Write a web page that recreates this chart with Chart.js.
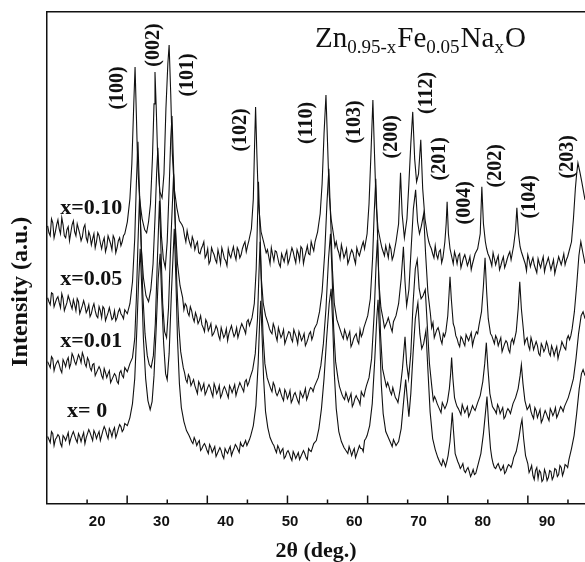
<!DOCTYPE html>
<html>
<head>
<meta charset="utf-8">
<script src="https://cdn.jsdelivr.net/npm/chart.js@4/dist/chart.umd.min.js"></script>
<style>
  html, body { margin: 0; padding: 0; background: #fff; }
  .chart__wrapper { width: 585px; height: 562px; position: relative; }
</style>
</head>
<body>
<div class="chart__wrapper"><canvas id="xrd-chart"></canvas></div>
<script>
// 2theta (deg.) / intensity (a.u.) pairs
const trace010 = [[12.3,278],[12.7,268],[13.1,281],[13.5,272],[13.9,284],[14.3,270],[14.7,279],[15.1,266],[15.5,277],[15.9,271],[16.3,283],[16.7,268],[17.1,275],[17.5,263],[17.9,276],[18.3,266],[18.7,272],[19.1,259],[19.5,270],[19.9,262],[20.3,268],[20.7,255],[21.1,266],[21.5,257],[21.9,264],[22.3,254],[22.7,265],[23.1,256],[23.5,266],[23.9,262],[24.3,270],[24.7,282],[25.1,305],[25.4,340],[25.7,400],[25.9,437],[26.1,390],[26.3,340],[26.6,305],[27.0,285],[27.4,274],[27.7,271],[28.0,282],[28.3,300],[28.6,345],[28.85,400],[29.0,432],[29.2,395],[29.45,340],[29.75,312],[30.1,306],[30.4,330],[30.7,395],[31.0,440],[31.2,459],[31.45,410],[31.7,350],[32.0,315],[32.4,296],[32.8,283],[33.2,279],[33.6,268],[34.0,273],[34.4,261],[34.8,267],[35.2,254],[35.6,262],[36.0,250],[36.4,258],[36.8,246],[37.2,255],[37.6,243],[38.0,252],[38.4,244],[38.8,254],[39.2,240],[39.6,251],[40.0,243],[40.4,255],[40.8,246],[41.2,257],[41.6,244],[42.0,253],[42.4,249],[42.8,259],[43.2,252],[43.6,263],[44.0,275],[44.3,305],[44.5,360],[44.65,397],[44.85,350],[45.1,300],[45.5,272],[45.9,262],[46.3,251],[46.7,247],[47.1,256],[47.5,243],[47.9,252],[48.3,240],[48.7,250],[49.1,242],[49.5,253],[49.9,244],[50.3,256],[50.7,246],[51.1,254],[51.5,243],[51.9,255],[52.3,247],[52.7,258],[53.1,249],[53.5,257],[53.9,262],[54.3,272],[54.7,290],[55.0,320],[55.3,370],[55.6,409],[55.85,360],[56.1,310],[56.4,285],[56.8,268],[57.2,262],[57.6,251],[58.0,259],[58.4,246],[58.8,255],[59.2,244],[59.6,254],[60.0,245],[60.4,256],[60.8,248],[61.2,258],[61.6,255],[62.0,270],[62.3,300],[62.6,350],[62.9,404],[63.15,350],[63.4,300],[63.7,275],[64.1,262],[64.5,252],[64.9,258],[65.3,246],[65.7,255],[66.1,248],[66.5,262],[66.9,280],[67.2,331],[67.45,290],[67.8,266],[68.2,285],[68.5,320],[68.8,360],[69.1,392],[69.4,345],[69.7,322],[70.0,330],[70.35,364],[70.65,315],[71.0,285],[71.4,268],[71.8,258],[72.2,250],[72.6,258],[73.0,245],[73.4,254],[73.8,246],[74.1,262],[74.3,280],[74.45,302],[74.65,270],[74.9,255],[75.2,246],[75.6,252],[76.0,240],[76.4,250],[76.8,241],[77.2,249],[77.6,238],[78.0,247],[78.4,240],[78.8,250],[79.2,255],[79.6,270],[79.85,317],[80.1,280],[80.4,262],[80.8,250],[81.2,243],[81.6,251],[82.0,239],[82.4,248],[82.8,238],[83.2,247],[83.6,240],[84.0,249],[84.4,244],[84.8,258],[85.1,274],[85.3,296],[85.55,270],[85.8,257],[86.2,248],[86.6,240],[87.0,249],[87.4,237],[87.8,246],[88.2,235],[88.6,245],[89.0,236],[89.4,247],[89.8,238],[90.2,246],[90.6,234],[91.0,244],[91.4,236],[91.8,247],[92.2,239],[92.6,250],[93.0,244],[93.4,252],[93.8,262],[94.1,285],[94.4,315],[94.6,330],[94.8,341],[95.1,332],[95.4,322],[95.9,304]];
// in-between readings of the noisy background
const trace010Fine = [[12.5,271],[12.9,285],[13.3,266],[13.7,279],[14.1,275],[14.5,286],[14.9,268],[15.3,274],[15.7,263],[16.1,279],[16.5,272],[16.9,280],[17.3,270],[17.7,267],[18.1,279],[18.5,262],[18.9,268],[19.3,265],[19.7,256],[20.1,271],[20.5,261],[20.9,262],[21.3,252],[21.7,268],[22.1,260],[22.5,268],[22.9,251],[23.3,263],[23.7,258],[24.1,268],[33.4,276],[33.8,262],[34.2,266],[34.6,257],[35.0,263],[35.4,259],[35.8,251],[36.2,255],[36.6,262],[37.0,249],[37.4,240],[37.8,256],[38.2,249],[38.6,241],[39.0,248],[39.4,256],[39.8,245],[40.2,238],[40.6,249],[41.0,252],[41.4,249],[41.8,256],[42.2,246],[42.6,255],[43.0,262],[43.4,258],[46.5,254],[46.9,240],[47.3,249],[47.7,253],[48.1,246],[48.5,237],[48.9,246],[49.3,249],[49.7,240],[50.1,250],[50.5,252],[50.9,241],[51.3,250],[51.7,257],[52.1,240],[52.5,252],[52.9,250],[53.3,262],[53.7,253],[57.0,257],[57.4,255],[57.8,245],[58.2,253],[58.6,250],[59.0,240],[59.4,250],[59.8,251],[60.2,240],[60.6,251],[61.0,253],[61.4,262],[64.3,256],[64.7,248],[65.1,252],[65.5,259],[65.9,244],[66.3,255],[71.6,262],[72.0,255],[72.4,246],[72.8,249],[73.2,252],[73.6,241],[75.4,240],[75.8,247],[76.2,248],[76.6,236],[77.0,246],[77.4,244],[77.8,242],[78.2,234],[78.6,245],[80.6,255],[81.0,247],[81.4,238],[81.8,245],[82.2,244],[82.6,234],[83.0,243],[83.4,236],[83.8,245],[84.2,252],[86.0,252],[86.4,244],[86.8,233],[87.2,244],[87.6,242],[88.0,239],[88.4,231],[88.8,240],[89.2,242],[89.6,232],[90.0,242],[90.4,240],[90.8,239],[91.2,230],[91.6,241],[92.0,243],[92.4,244],[92.8,239],[93.2,247]];

const trace005 = [[12.3,206],[12.7,199],[13.1,210],[13.5,201],[13.9,207],[14.3,196],[14.7,205],[15.1,197],[15.5,208],[15.9,199],[16.3,204],[16.7,193],[17.1,202],[17.5,194],[17.9,203],[18.3,191],[18.7,199],[19.1,190],[19.5,200],[19.9,188],[20.3,197],[20.7,186],[21.1,195],[21.5,187],[21.9,196],[22.3,184],[22.7,193],[23.1,186],[23.5,195],[23.9,188],[24.3,194],[24.7,190],[25.1,200],[25.5,222],[25.85,265],[26.1,320],[26.35,362],[26.6,310],[26.85,258],[27.2,226],[27.6,208],[28.0,202],[28.35,214],[28.7,240],[29.0,285],[29.25,330],[29.45,356],[29.7,318],[30.0,268],[30.3,245],[30.6,236],[30.9,262],[31.2,315],[31.45,365],[31.65,388],[31.9,335],[32.15,280],[32.5,240],[32.9,218],[33.3,206],[33.7,200],[34.1,191],[34.5,197],[34.9,186],[35.3,191],[35.7,180],[36.1,188],[36.5,176],[36.9,184],[37.3,173],[37.7,180],[38.1,170],[38.5,178],[38.9,168],[39.3,176],[39.7,166],[40.1,175],[40.5,170],[40.9,178],[41.3,167],[41.7,176],[42.1,171],[42.5,180],[42.9,174],[43.3,182],[43.7,178],[44.1,186],[44.45,200],[44.75,235],[44.95,285],[45.1,322],[45.3,280],[45.55,225],[45.85,200],[46.2,188],[46.6,180],[47.0,172],[47.4,180],[47.8,168],[48.2,176],[48.6,166],[49.0,174],[49.4,164],[49.8,172],[50.2,165],[50.6,174],[51.0,166],[51.4,172],[51.8,163],[52.2,170],[52.6,161],[53.0,170],[53.4,164],[53.8,175],[54.2,180],[54.6,192],[55.0,212],[55.4,250],[55.75,300],[56.05,335],[56.3,290],[56.6,235],[56.9,200],[57.3,184],[57.7,176],[58.1,168],[58.5,174],[58.9,164],[59.3,172],[59.7,160],[60.1,168],[60.5,163],[60.9,174],[61.3,170],[61.7,180],[62.1,188],[62.5,205],[62.85,245],[63.1,290],[63.35,325],[63.6,275],[63.85,220],[64.15,196],[64.5,184],[64.9,179],[65.3,186],[65.7,176],[66.1,182],[66.5,188],[66.9,200],[67.3,225],[67.65,257],[67.9,222],[68.15,198],[68.5,214],[68.85,255],[69.2,295],[69.55,314],[69.85,282],[70.15,270],[70.45,278],[70.8,290],[71.1,250],[71.45,212],[71.85,190],[72.25,181],[72.65,170],[73.05,176],[73.45,164],[73.85,170],[74.25,172],[74.55,188],[74.75,210],[74.9,227],[75.1,205],[75.4,180],[75.8,168],[76.2,160],[76.6,167],[77.0,161],[77.4,169],[77.8,163],[78.2,171],[78.6,164],[79.0,172],[79.4,178],[79.8,192],[80.1,218],[80.35,246],[80.6,212],[80.85,185],[81.2,170],[81.6,164],[82.0,168],[82.4,158],[82.8,166],[83.2,156],[83.6,163],[84.0,154],[84.4,162],[84.8,160],[85.2,172],[85.5,195],[85.75,222],[86.0,195],[86.3,175],[86.7,164],[87.1,158],[87.5,166],[87.9,154],[88.3,162],[88.7,150],[89.1,160],[89.5,152],[89.9,162],[90.3,151],[90.7,158],[91.1,148],[91.5,157],[91.9,151],[92.3,162],[92.7,156],[93.1,165],[93.5,164],[93.9,175],[94.25,192],[94.6,218],[94.95,248],[95.25,262],[95.6,250],[95.9,240]];
const trace005Fine = [[12.5,202],[12.9,211],[13.3,197],[13.7,205],[14.1,201],[14.5,210],[14.9,193],[15.3,201],[15.7,204],[16.1,195],[16.5,199],[16.9,205],[17.3,190],[17.7,198],[18.1,198],[18.5,194],[18.9,187],[19.3,196],[19.7,193],[20.1,186],[20.5,193],[20.9,197],[21.3,183],[21.7,191],[22.1,190],[22.5,186],[22.9,183],[23.3,192],[23.7,190],[24.1,185],[33.5,194],[33.9,198],[34.3,188],[34.7,193],[35.1,182],[35.5,187],[35.9,183],[36.3,179],[36.7,172],[37.1,181],[37.5,176],[37.9,168],[38.3,173],[38.7,175],[39.1,164],[39.5,171],[39.9,169],[40.3,163],[40.7,174],[41.1,172],[41.5,170],[41.9,166],[42.3,176],[42.7,177],[43.1,170],[43.5,184],[46.4,184],[46.8,175],[47.2,170],[47.6,176],[48.0,163],[48.4,171],[48.8,169],[49.2,160],[49.6,168],[50.0,171],[50.4,162],[50.8,170],[51.2,160],[51.6,168],[52.0,166],[52.4,158],[52.8,165],[53.2,172],[53.6,168],[57.5,180],[57.9,172],[58.3,165],[58.7,170],[59.1,168],[59.5,157],[59.9,165],[60.3,170],[60.7,160],[61.1,167],[61.5,176],[64.7,176],[65.1,182],[65.5,181],[65.9,172],[66.3,185],[72.05,176],[72.45,166],[72.85,174],[73.25,171],[73.65,160],[74.05,167],[75.6,176],[76.0,165],[76.4,157],[76.8,165],[77.2,158],[77.6,166],[78.0,167],[78.4,158],[78.8,168],[79.2,170],[81.4,168],[81.8,160],[82.2,165],[82.6,162],[83.0,152],[83.4,160],[83.8,161],[84.2,151],[84.6,165],[86.5,160],[86.9,166],[87.3,154],[87.7,161],[88.1,158],[88.5,158],[88.9,148],[89.3,157],[89.7,155],[90.1,158],[90.5,148],[90.9,154],[91.3,153],[91.7,145],[92.1,155],[92.5,159],[92.9,154],[93.3,168],[93.7,168]];

const trace001 = [[12.3,142],[12.7,136],[13.1,145],[13.5,138],[13.9,143],[14.3,134],[14.7,144],[15.1,137],[15.5,146],[15.9,140],[16.3,147],[16.7,139],[17.1,149],[17.5,141],[17.9,147],[18.3,137],[18.7,143],[19.1,133],[19.5,140],[19.9,131],[20.3,137],[20.7,128],[21.1,135],[21.5,126],[21.9,133],[22.3,124],[22.7,130],[23.1,122],[23.5,131],[23.9,128],[24.3,136],[24.7,132],[25.1,140],[25.5,146],[25.85,165],[26.1,205],[26.35,260],[26.6,308],[26.85,262],[27.1,210],[27.45,170],[27.8,148],[28.1,139],[28.4,136],[28.75,148],[29.05,180],[29.35,240],[29.7,303],[29.95,250],[30.2,200],[30.5,172],[30.8,166],[31.1,195],[31.45,260],[31.9,330],[32.15,280],[32.4,220],[32.7,178],[33.0,152],[33.4,136],[33.8,124],[34.2,129],[34.6,118],[35.0,124],[35.4,114],[35.8,122],[36.2,113],[36.6,120],[37.0,112],[37.4,119],[37.8,111],[38.2,120],[38.6,110],[39.0,118],[39.4,109],[39.8,117],[40.2,110],[40.6,118],[41.0,111],[41.4,119],[41.8,113],[42.2,121],[42.6,115],[43.0,122],[43.4,118],[43.8,126],[44.2,134],[44.6,150],[44.95,185],[45.2,235],[45.35,262],[45.55,220],[45.8,170],[46.1,140],[46.45,126],[46.8,119],[47.2,112],[47.6,118],[48.0,108],[48.4,115],[48.8,106],[49.2,114],[49.6,105],[50.0,113],[50.4,104],[50.8,111],[51.2,103],[51.6,112],[52.0,106],[52.4,115],[52.8,108],[53.2,116],[53.6,112],[54.0,120],[54.4,126],[54.8,138],[55.2,160],[55.6,195],[56.0,245],[56.3,270],[56.55,230],[56.8,175],[57.1,142],[57.5,124],[57.9,113],[58.3,106],[58.7,111],[59.1,102],[59.5,110],[59.9,100],[60.3,108],[60.7,103],[61.1,112],[61.5,107],[61.9,118],[62.3,126],[62.7,145],[63.1,190],[63.4,240],[63.6,264],[63.85,220],[64.1,168],[64.4,135],[64.8,123],[65.2,121],[65.6,112],[66.0,116],[66.4,106],[66.8,101],[67.15,115],[67.5,135],[67.9,167],[68.15,140],[68.45,125],[68.8,150],[69.15,200],[69.5,235],[69.8,244],[70.1,215],[70.4,205],[70.7,208],[71.05,214],[71.35,180],[71.7,140],[72.1,115],[72.5,107],[72.9,100],[73.3,94],[73.7,101],[74.1,95],[74.5,102],[74.8,115],[75.0,130],[75.15,146],[75.35,125],[75.6,106],[76.0,97],[76.4,92],[76.8,99],[77.2,91],[77.6,97],[78.0,90],[78.4,98],[78.8,93],[79.2,101],[79.6,108],[80.0,122],[80.3,140],[80.55,161],[80.8,135],[81.1,110],[81.5,97],[81.9,93],[82.3,99],[82.7,90],[83.1,96],[83.5,87],[83.9,95],[84.3,90],[84.7,100],[85.1,106],[85.5,115],[85.8,128],[86.0,139],[86.25,120],[86.55,103],[86.9,94],[87.3,99],[87.7,88],[88.1,96],[88.5,86],[88.9,94],[89.3,84],[89.7,93],[90.1,86],[90.5,95],[90.9,88],[91.3,96],[91.7,89],[92.1,97],[92.5,92],[92.9,100],[93.3,106],[93.7,115],[94.1,125],[94.5,145],[94.9,170],[95.3,188],[95.6,192],[95.9,185]];
const trace001Fine = [[12.5,139],[12.9,147],[13.3,133],[13.7,141],[14.1,139],[14.5,131],[14.9,141],[15.3,143],[15.7,136],[16.1,150],[16.5,142],[16.9,144],[17.3,146],[17.7,151],[18.1,140],[18.5,146],[18.9,136],[19.3,139],[19.7,128],[20.1,134],[20.5,134],[20.9,125],[21.3,131],[21.7,130],[22.1,121],[22.5,127],[22.9,128],[23.3,120],[23.7,133],[24.1,126],[33.6,131],[34.0,121],[34.4,126],[34.8,121],[35.2,118],[35.6,110],[36.0,119],[36.4,116],[36.8,109],[37.2,116],[37.6,116],[38.0,107],[38.4,116],[38.8,113],[39.2,106],[39.6,114],[40.0,114],[40.4,106],[40.8,115],[41.2,115],[41.6,108],[42.0,117],[42.4,118],[42.8,112],[43.2,124],[43.6,121],[47.0,115],[47.4,121],[47.8,111],[48.2,111],[48.6,110],[49.0,103],[49.4,111],[49.8,108],[50.2,101],[50.6,109],[51.0,107],[51.4,100],[51.8,109],[52.2,110],[52.6,104],[53.0,113],[53.4,115],[53.8,117],[57.7,117],[58.1,109],[58.5,104],[58.9,107],[59.3,106],[59.7,97],[60.1,105],[60.5,105],[60.9,99],[61.3,109],[61.7,113],[65.0,117],[65.4,117],[65.8,109],[66.2,111],[66.6,104],[72.3,103],[72.7,104],[73.1,97],[73.5,91],[73.9,98],[74.3,98],[75.8,101],[76.2,95],[76.6,89],[77.0,95],[77.4,94],[77.8,87],[78.2,94],[78.6,95],[79.0,97],[81.7,95],[82.1,90],[82.5,96],[82.9,93],[83.3,85],[83.7,92],[84.1,93],[84.5,95],[87.1,96],[87.5,92],[87.9,85],[88.3,93],[88.7,90],[89.1,81],[89.5,89],[89.9,90],[90.3,83],[90.7,92],[91.1,91],[91.5,86],[91.9,93],[92.3,95],[92.7,97]];

const trace000 = [[12.3,67],[12.7,61],[13.1,70],[13.5,64],[13.9,69],[14.3,60],[14.7,68],[15.1,63],[15.5,71],[15.9,65],[16.3,72],[16.7,64],[17.1,70],[17.5,62],[17.9,71],[18.3,66],[18.7,74],[19.1,67],[19.5,73],[19.9,65],[20.3,72],[20.7,68],[21.1,77],[21.5,69],[21.9,75],[22.3,67],[22.7,76],[23.1,70],[23.5,79],[23.9,72],[24.3,80],[24.7,78],[25.1,86],[25.5,100],[25.85,125],[26.15,170],[26.45,222],[26.7,255],[26.95,215],[27.2,165],[27.55,125],[27.9,103],[28.25,94],[28.55,102],[28.85,128],[29.15,170],[29.5,225],[29.8,250],[30.05,205],[30.35,160],[30.65,130],[30.9,124],[31.2,150],[31.55,210],[32.0,275],[32.25,225],[32.5,165],[32.8,120],[33.1,96],[33.5,82],[33.9,73],[34.3,68],[34.7,62],[35.1,66],[35.5,58],[35.9,63],[36.3,55],[36.7,60],[37.1,53],[37.5,59],[37.9,51],[38.3,57],[38.7,50],[39.1,56],[39.5,48],[39.9,55],[40.3,50],[40.7,57],[41.1,52],[41.5,59],[41.9,54],[42.3,61],[42.7,57],[43.1,63],[43.5,61],[43.9,68],[44.3,78],[44.7,98],[45.05,140],[45.3,185],[45.45,203],[45.65,170],[45.9,125],[46.2,92],[46.55,76],[46.9,66],[47.3,60],[47.7,54],[48.1,58],[48.5,50],[48.9,55],[49.3,47],[49.7,53],[50.1,46],[50.5,52],[50.9,45],[51.3,51],[51.7,47],[52.1,53],[52.5,46],[52.9,55],[53.3,52],[53.7,60],[54.1,63],[54.5,75],[54.9,95],[55.3,125],[55.7,165],[56.1,200],[56.4,215],[56.65,180],[56.9,130],[57.2,95],[57.6,72],[58.0,62],[58.4,56],[58.8,52],[59.2,57],[59.6,48],[60.0,55],[60.4,50],[60.8,58],[61.2,55],[61.6,63],[62.0,68],[62.4,78],[62.8,100],[63.2,145],[63.5,185],[63.7,204],[63.95,170],[64.2,120],[64.5,90],[64.9,72],[65.3,66],[65.7,60],[66.1,64],[66.5,58],[66.9,62],[67.3,75],[67.65,100],[68.0,124],[68.25,105],[68.5,87],[68.8,110],[69.15,150],[69.5,185],[69.9,201],[70.2,170],[70.5,155],[70.8,160],[71.15,173],[71.45,135],[71.8,92],[72.2,65],[72.6,54],[73.0,46],[73.4,40],[73.8,44],[74.2,37],[74.6,48],[74.9,62],[75.1,78],[75.25,91],[75.45,72],[75.7,50],[76.1,42],[76.5,35],[76.9,40],[77.3,31],[77.7,36],[78.1,27],[78.5,34],[78.9,30],[79.3,40],[79.7,50],[80.1,70],[80.4,90],[80.65,107],[80.9,80],[81.2,55],[81.6,40],[82.0,35],[82.4,40],[82.8,33],[83.2,38],[83.6,32],[84.0,39],[84.4,36],[84.8,46],[85.2,52],[85.6,65],[85.9,78],[86.1,84],[86.35,65],[86.65,48],[87.0,40],[87.4,34],[87.8,28],[88.2,33],[88.6,25],[89.0,31],[89.4,24],[89.8,30],[90.2,26],[90.6,32],[91.0,27],[91.4,34],[91.8,29],[92.2,36],[92.6,32],[93.0,38],[93.4,44],[93.8,55],[94.2,68],[94.6,90],[95.0,115],[95.35,130],[95.6,134],[95.9,128]];
const trace000Fine = [[12.5,64],[12.9,72],[13.3,58],[13.7,66],[14.1,67],[14.5,57],[14.9,66],[15.3,67],[15.7,60],[16.1,69],[16.5,68],[16.9,61],[17.3,67],[17.7,67],[18.1,60],[18.5,70],[18.9,71],[19.3,63],[19.7,70],[20.1,69],[20.5,63],[20.9,73],[21.3,74],[21.7,65],[22.1,72],[22.5,73],[22.9,66],[23.3,75],[23.7,77],[24.1,74],[34.5,65],[34.9,60],[35.3,63],[35.7,61],[36.1,53],[36.5,58],[36.9,57],[37.3,50],[37.7,56],[38.1,54],[38.5,47],[38.9,53],[39.3,53],[39.7,45],[40.1,52],[40.5,54],[40.9,48],[41.3,55],[41.7,57],[42.1,51],[42.5,58],[42.9,60],[43.3,58],[43.7,64],[47.1,63],[47.5,58],[47.9,51],[48.3,55],[48.7,53],[49.1,45],[49.5,51],[49.9,50],[50.3,43],[50.7,49],[51.1,48],[51.5,44],[51.9,50],[52.3,50],[52.7,44],[53.1,53],[53.5,56],[58.2,59],[58.6,54],[59.0,50],[59.4,53],[59.8,52],[60.2,46],[60.6,54],[61.0,55],[61.4,52],[61.8,65],[65.1,69],[65.5,63],[65.9,57],[66.3,61],[66.7,60],[72.8,50],[73.2,43],[73.6,38],[74.0,41],[74.4,42],[76.3,39],[76.7,37],[77.1,33],[77.5,34],[77.9,32],[78.3,30],[78.7,29],[79.1,35],[81.4,46],[81.8,36],[82.2,38],[82.6,36],[83.0,35],[83.4,30],[83.8,36],[84.2,38],[84.6,40],[87.2,31],[87.6,38],[88.0,24],[88.4,36],[88.8,33],[89.2,22],[89.6,34],[90.0,23],[90.4,33],[90.8,24],[91.2,35],[91.6,27],[92.0,38],[92.4,28],[92.8,39],[93.2,36]];

// axis
const xTickLabels = [20, 30, 40, 50, 60, 70, 80, 90];
const tickMarks = [18.44, 24.67, 30.91, 37.14, 43.38, 49.61, 55.84, 62.08, 68.31, 74.55, 80.78, 87.01, 93.25];

// peak indices, placed at (2theta, intensity)
const peakNames = ["(100)", "(002)", "(101)", "(102)", "(110)", "(103)", "(200)", "(112)", "(201)", "(004)", "(202)", "(104)", "(203)"];
const peakLabelX = [23.27, 28.86, 34.15, 42.39, 52.66, 60.12, 65.88, 71.32, 73.34, 77.23, 82.05, 87.34, 93.25];
const peakLabelY = [416, 459, 429, 374, 381, 382, 367, 411, 345, 301, 338, 307, 347];

// sample labels
const sampleNames = ["x=0.10", "x=0.05", "x=0.01", "x= 0"];
const sampleLabelX = [14.25, 14.25, 14.25, 15.33];
const sampleLabelY = [295, 224, 162, 92];

const ink = "#111";

const overlayPlugin = {
  id: "overlay",
  afterDraw(chart) {
    const { ctx, chartArea } = chart;
    const x = chart.scales.x;
    const y = chart.scales.y;
    ctx.save();

    // inward tick marks, long and short alternating
    ctx.strokeStyle = ink;
    ctx.lineWidth = 1.5;
    tickMarks.forEach((v, i) => {
      const px = x.getPixelForValue(v);
      const len = i % 2 ? 8 : 4;
      ctx.beginPath();
      ctx.moveTo(px, chartArea.bottom);
      ctx.lineTo(px, chartArea.bottom - len);
      ctx.stroke();
    });

    ctx.fillStyle = ink;

    // peak labels, rotated
    ctx.font = 'bold 20px "Liberation Serif"';
    ctx.textAlign = "center";
    ctx.textBaseline = "middle";
    peakNames.forEach((name, i) => {
      ctx.save();
      ctx.translate(x.getPixelForValue(peakLabelX[i]), y.getPixelForValue(peakLabelY[i]));
      ctx.rotate(-Math.PI / 2);
      ctx.fillText(name, 0, 0);
      ctx.restore();
    });

    // sample labels
    ctx.font = 'bold 22px "Liberation Serif"';
    ctx.textAlign = "left";
    sampleNames.forEach((name, i) => {
      ctx.fillText(name, x.getPixelForValue(sampleLabelX[i]), y.getPixelForValue(sampleLabelY[i]));
    });

    // y axis title
    ctx.save();
    ctx.font = 'bold 24px "Liberation Serif"';
    ctx.textAlign = "center";
    ctx.translate(chartArea.left - 26, y.getPixelForValue(212));
    ctx.rotate(-Math.PI / 2);
    ctx.fillText("Intensity (a.u.)", 0, 0);
    ctx.restore();

    // formula Zn(0.95-x)Fe(0.05)Na(x)O
    const parts = [
      ["Zn", false], ["0.95-x", true], ["Fe", false], ["0.05", true],
      ["Na", false], ["x", true], ["O", false],
    ];
    let cx = x.getPixelForValue(53.9);
    const base = y.getPixelForValue(457);
    ctx.textBaseline = "alphabetic";
    parts.forEach(([txt, sub]) => {
      ctx.font = sub ? '19px "Liberation Serif"' : '29px "Liberation Serif"';
      ctx.fillText(txt, cx, sub ? base + 6 : base);
      cx += ctx.measureText(txt).width + (sub ? 1 : 0);
    });

    ctx.restore();
  },
};

const byAngle = (a, b) => a[0] - b[0];

const lineSet = (data) => ({
  data: data.map(([t, i]) => ({ x: t, y: i })),
  borderColor: ink,
  borderWidth: 1.1,
  pointRadius: 0,
  tension: 0,
  fill: false,
});

const frameBorder = { display: true, color: ink, width: 1.5 };

new Chart(document.getElementById("xrd-chart"), {
  type: "line",
  data: {
    datasets: [
      [...trace010, ...trace010Fine].sort(byAngle),
      [...trace005, ...trace005Fine].sort(byAngle),
      [...trace001, ...trace001Fine].sort(byAngle),
      [...trace000, ...trace000Fine].sort(byAngle),
    ].map(lineSet),
  },
  options: {
    responsive: true,
    maintainAspectRatio: false,
    animation: false,
    events: [],
    layout: { padding: { left: 47, top: 12, right: 0, bottom: 0 } },
    plugins: { legend: { display: false }, tooltip: { enabled: false } },
    scales: {
      x: {
        type: "linear",
        min: 12.2,
        max: 95.9,
        afterBuildTicks: (axis) => {
          axis.ticks = xTickLabels.map((v) => ({ value: v }));
        },
        grid: { drawOnChartArea: false, drawTicks: false, tickLength: 0 },
        border: frameBorder,
        ticks: {
          color: ink,
          padding: 10,
          maxRotation: 0,
          autoSkip: false,
          font: { family: "Liberation Sans", size: 15, weight: "bold", lineHeight: 1.1 },
        },
        title: {
          display: true,
          text: "2θ (deg.)",
          color: ink,
          padding: { top: 0, bottom: 0 },
          font: { family: "Liberation Serif", size: 22, weight: "bold", lineHeight: 1 },
        },
      },
      xTop: {
        type: "linear",
        axis: "x",
        position: "top",
        min: 12.2,
        max: 95.9,
        grid: { drawOnChartArea: false, drawTicks: false, tickLength: 0 },
        border: frameBorder,
        ticks: { display: false },
      },
      y: {
        min: 0,
        max: 492,
        grid: { drawOnChartArea: false, drawTicks: false, tickLength: 0 },
        border: frameBorder,
        ticks: { display: false },
      },
    },
  },
  plugins: [overlayPlugin],
});
</script>
</body>
</html>
